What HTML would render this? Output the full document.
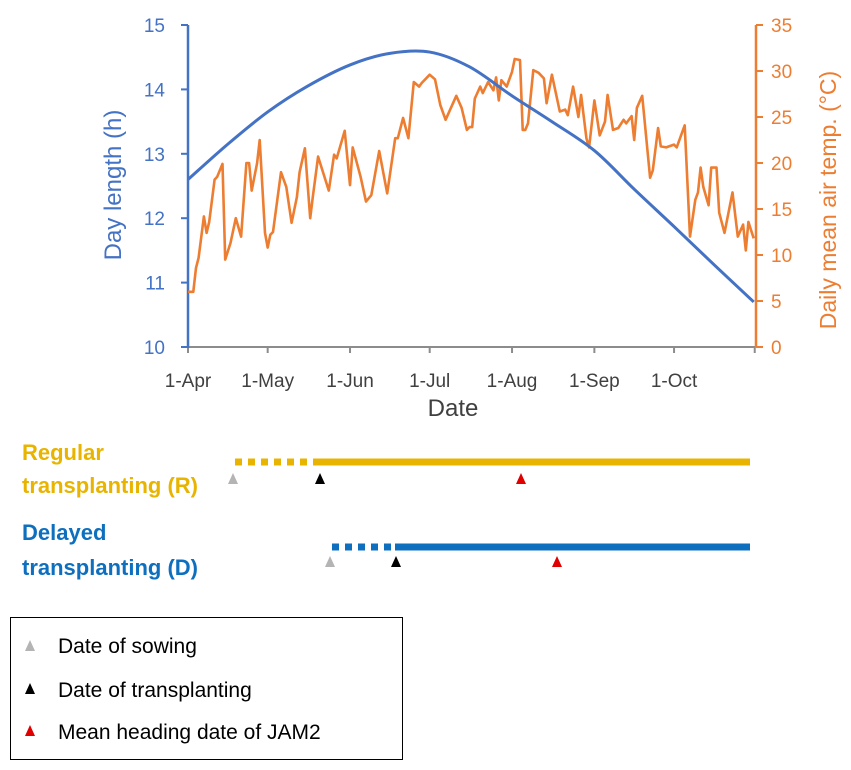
<!DOCTYPE html>
<html><head><meta charset="utf-8"><style>
html,body{margin:0;padding:0;background:#fff;}
svg{display:block;font-family:"Liberation Sans",Arial,sans-serif;}
</style></head><body>
<svg id="chart" width="851" height="770" viewBox="0 0 851 770" xmlns="http://www.w3.org/2000/svg">
<g id="plot"></g>
<g id="lower">
  <text x="22" y="460" font-size="22" font-weight="bold" fill="#e8b400">Regular</text>
  <text x="22" y="493" font-size="22" font-weight="bold" fill="#e8b400">transplanting (R)</text>
  <line x1="235" y1="462" x2="318" y2="462" stroke="#e8b400" stroke-width="7" stroke-dasharray="7 6"/>
  <line x1="318" y1="462" x2="750" y2="462" stroke="#e8b400" stroke-width="7"/>
  <polygon points="228,484 238,484 233,473" fill="#b4b4b4"/>
  <polygon points="315,484 325,484 320,473" fill="#000"/>
  <polygon points="516,484 526,484 521,473" fill="#e00000"/>
  <text x="22" y="540" font-size="22" font-weight="bold" fill="#0e6fbf">Delayed</text>
  <text x="22" y="575" font-size="22" font-weight="bold" fill="#0e6fbf">transplanting (D)</text>
  <line x1="332" y1="547" x2="395" y2="547" stroke="#0e6fbf" stroke-width="7" stroke-dasharray="7 6"/>
  <line x1="395" y1="547" x2="750" y2="547" stroke="#0e6fbf" stroke-width="7"/>
  <polygon points="325,567 335,567 330,556" fill="#b4b4b4"/>
  <polygon points="391,567 401,567 396,556" fill="#000"/>
  <polygon points="552,567 562,567 557,556" fill="#e00000"/>
</g>
<g>
  <rect x="10.5" y="617.5" width="392" height="142" fill="#fff" stroke="#000" stroke-width="1"/>
  <polygon points="25,651 35,651 30,640" fill="#b4b4b4"/>
  <text x="58" y="653" font-size="21" fill="#000">Date of sowing</text>
  <polygon points="25,694 35,694 30,683" fill="#000"/>
  <text x="58" y="697" font-size="21" fill="#000">Date of transplanting</text>
  <polygon points="25,736 35,736 30,725" fill="#e00000"/>
  <text x="58" y="739" font-size="21" fill="#000">Mean heading date of JAM2</text>
</g>
</svg>
<script>
const monthLabels = ["1-Apr","1-May","1-Jun","1-Jul","1-Aug","1-Sep","1-Oct"];
const monthDays = [0,30,61,91,122,153,183];
const leftTicks = [10,11,12,13,14,15];
const rightTicks = [0,5,10,15,20,25,30,35];
const dayLenDays = [0,15,30,45,61,76,91,106,122,137,153,168,183,198,213];
const dayLenValues = [12.6,13.15,13.65,14.05,14.38,14.56,14.58,14.35,13.9,13.5,13.05,12.45,11.87,11.28,10.7];
const tempDays = [0,1,2,3,4,6,7,8,10,11,13,14,16,18,20,22,23,24,26,27,29,30,31,32,35,37,39,41,42,44,46,47,49,53,55,56,59,61,62,65,67,69,72,75,78,79,81,83,85,87,88,91,93,95,97,101,103,105,106,107,108,110,111,113,115,116,117,118,120,122,123,125,126,127,128,130,132,134,135,137,140,142,143,145,147,148,150,151,153,155,157,158,160,162,164,165,167,168,169,171,174,175,177,178,180,183,184,187,189,191,192,193,194,196,197,199,200,202,205,207,209,210,211,213];
const tempValues = [6,6,6,8.6,9.7,14.2,12.4,13.6,18.2,18.5,19.9,9.5,11.3,14,12,20,20,17,20,22.5,12.4,10.8,12.2,12.5,19,17.4,13.5,16.3,19,21.6,14,16.3,20.7,17,20.9,20.5,23.5,17.6,21.7,18.5,15.8,16.5,21.3,16.7,22.7,22.7,24.9,22.7,28.8,28.3,28.7,29.6,29.1,26.3,24.7,27.3,26,23.6,23.9,23.9,27,28.3,27.6,28.8,27.9,29.3,26.8,29,28.3,29.9,31.3,31.2,23.6,23.6,24.3,30.1,29.8,29.2,26.5,29.6,25.6,25.8,25.2,28.3,25,27.4,22.7,21.7,26.8,23,24.5,27.4,23.6,23.8,24.7,24.3,25.1,22.5,26,27.3,18.4,19.2,23.8,21.8,21.7,22,21.7,24.1,12,16,16.8,19.5,17.4,15.4,19.5,19.5,14.6,12.4,16.8,12,13.3,10.5,13.6,11.8];

const NS = "http://www.w3.org/2000/svg";
const plot = document.getElementById("plot");
const X0 = 188, Y0 = 347, Y1 = 25;
const xScale = d => X0 + d * 2.656;
const yLeft = v => Y0 - (v - 10) / 5 * (Y0 - Y1);
const yRight = v => Y0 - v / 35 * (Y0 - Y1);
function mk(tag, attrs, text) {
  const e = document.createElementNS(NS, tag);
  for (const k in attrs) e.setAttribute(k, attrs[k]);
  if (text !== undefined) e.textContent = text;
  plot.appendChild(e);
  return e;
}
let el;
// x axis
el = mk("line", {x1: X0, y1: Y0, x2: xScale(213) + 2, y2: Y0, stroke: "#8c8c8c", "stroke-width": 2});


monthDays.forEach((d, i) => {
  const t = mk("line", {x1: xScale(d), y1: Y0, x2: xScale(d), y2: Y0 + 6, stroke: "#8c8c8c", "stroke-width": 2});
  
  
  const l = mk("text", {x: xScale(d), y: 387, "font-size": 19, fill: "#404040", "text-anchor": "middle"}, monthLabels[i]);
  
  
});
const endTick = mk("line", {x1: xScale(213) + 1, y1: Y0, x2: xScale(213) + 1, y2: Y0 + 6, stroke: "#8c8c8c", "stroke-width": 2});


el = mk("text", {x: 453, y: 416, "font-size": 24, fill: "#404040", "text-anchor": "middle"}, "Date");


// left axis
el = mk("line", {x1: X0, y1: Y1, x2: X0, y2: Y0 + 1, stroke: "#4472c4", "stroke-width": 2.5});


leftTicks.forEach(v => {
  const t = mk("line", {x1: X0 - 7, y1: yLeft(v), x2: X0, y2: yLeft(v), stroke: "#4472c4", "stroke-width": 2});
  
  
  const l = mk("text", {x: 165, y: yLeft(v) + 7, "font-size": 19, fill: "#4472c4", "text-anchor": "end"}, String(v));
  
  
});
el = mk("text", {x: 0, y: 0, "font-size": 24, fill: "#4472c4", "text-anchor": "middle", transform: "translate(121,185) rotate(-90)"}, "Day length (h)");


// right axis
const XR = 756;
el = mk("line", {x1: XR, y1: Y1, x2: XR, y2: Y0, stroke: "#ed7d31", "stroke-width": 2.5});


rightTicks.forEach(v => {
  const t = mk("line", {x1: XR, y1: yRight(v), x2: XR + 7, y2: yRight(v), stroke: "#ed7d31", "stroke-width": 2});
  
  
  const l = mk("text", {x: 771, y: yRight(v) + 7, "font-size": 19, fill: "#ed7d31"}, String(v));
  
  
});
el = mk("text", {x: 0, y: 0, "font-size": 23, fill: "#ed7d31", "text-anchor": "middle", transform: "translate(836,200) rotate(-90)"}, "Daily mean air temp. (°C)");


// temperature series
el = mk("polyline", {points: tempDays.map((d, i) => xScale(d).toFixed(1) + "," + yRight(tempValues[i]).toFixed(1)).join(" "), fill: "none", stroke: "#ed7d31", "stroke-width": 2.6, "stroke-linejoin": "round"});


// day length series (smooth)
const pts = dayLenDays.map((d, i) => [xScale(d), yLeft(dayLenValues[i])]);
let dp = "M" + pts[0][0] + "," + pts[0][1];
for (let i = 0; i < pts.length - 1; i++) {
  const p0 = pts[Math.max(0, i - 1)], p1 = pts[i], p2 = pts[i + 1], p3 = pts[Math.min(pts.length - 1, i + 2)];
  const c1 = [p1[0] + (p2[0] - p0[0]) / 6, p1[1] + (p2[1] - p0[1]) / 6];
  const c2 = [p2[0] - (p3[0] - p1[0]) / 6, p2[1] - (p3[1] - p1[1]) / 6];
  dp += " C" + c1.join(",") + " " + c2.join(",") + " " + p2.join(",");
}
el = mk("path", {d: dp, fill: "none", stroke: "#4472c4", "stroke-width": 3});


</script>
</body></html>
